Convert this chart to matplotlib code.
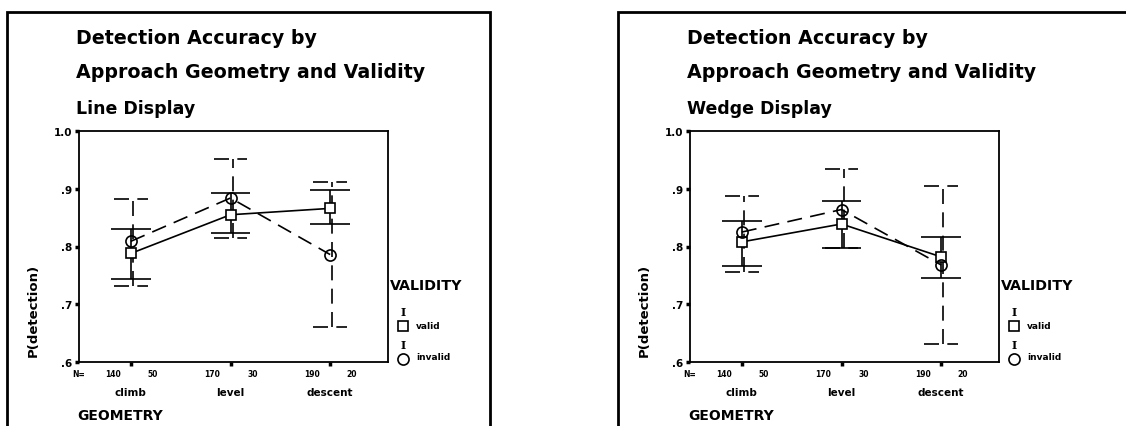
import matplotlib.pyplot as plt
import numpy as np
from matplotlib.lines import Line2D
from matplotlib.patches import Rectangle

W, H = 1126, 427

categories = ['climb', 'level', 'descent']
n_valid = [140, 170, 190]
n_invalid = [50, 30, 20]
yticks = [0.6, 0.7, 0.8, 0.9, 1.0]
ytick_labels = ['.6', '.7', '.8', '.9', '1.0']

# line display
line_valid = [0.788, 0.855, 0.866]
line_valid_lo = [0.744, 0.823, 0.839]
line_valid_hi = [0.831, 0.892, 0.898]
line_invalid = [0.809, 0.884, 0.786]
line_invalid_lo = [0.731, 0.814, 0.660]
line_invalid_hi = [0.882, 0.952, 0.911]

# wedge display
wedge_valid = [0.808, 0.839, 0.782]
wedge_valid_lo = [0.766, 0.798, 0.746]
wedge_valid_hi = [0.845, 0.878, 0.817]
wedge_invalid = [0.825, 0.864, 0.768]
wedge_invalid_lo = [0.756, 0.797, 0.632]
wedge_invalid_hi = [0.888, 0.934, 0.904]

panels = [
    ('Line Display', 0, line_valid, line_valid_lo, line_valid_hi,
     line_invalid, line_invalid_lo, line_invalid_hi),
    ('Wedge Display', 611, wedge_valid, wedge_valid_lo, wedge_valid_hi,
     wedge_invalid, wedge_invalid_lo, wedge_invalid_hi),
]

plt.rcParams['font.family'] = 'DejaVu Sans'
plt.rcParams['font.weight'] = 'bold'

fig = plt.figure(figsize=(W / 100, H / 100), dpi=100)
fig.patch.set_facecolor('white')


def fx(px):
    return px / W


def fy(py):
    return 1 - py / H


dash = (0, (9, 5))
x = np.arange(1, 4)

for subtitle, off, v, vlo, vhi, iv, ilo, ihi in panels:
    # panel frame
    fig.add_artist(Rectangle((fx(7 + off), -0.2), fx(483) if off == 0 else 0.6,
                             fy(13) + 0.2, fill=False, lw=2, color='black',
                             transform=fig.transFigure))

    fig.text(fx(76 + off), fy(38), 'Detection Accuracy by', fontsize=13.7,
             fontweight='heavy', va='center', ha='left')
    fig.text(fx(76 + off), fy(72), 'Approach Geometry and Validity', fontsize=13.7,
             fontweight='heavy', va='center', ha='left')
    fig.text(fx(76 + off), fy(109), subtitle, fontsize=12.5,
             fontweight='heavy', va='center', ha='left')

    ax = fig.add_axes([fx(79 + off), 1 - 363 / H, fx(309), 231 / H])
    ax.set_xlim(0.48, 3.58)
    ax.set_ylim(0.6, 1.0)
    for s in ax.spines.values():
        s.set_linewidth(1.3)

    # valid: solid bars and line
    ax.vlines(x, vlo, vhi, color='black', lw=1.2)
    ax.hlines(vlo, x - 0.2, x + 0.2, color='black', lw=1.2)
    ax.hlines(vhi, x - 0.2, x + 0.2, color='black', lw=1.2)
    ax.plot(x, v, color='black', lw=1.2, marker='s', markersize=7,
            markerfacecolor='white', markeredgewidth=1.2, zorder=3)

    # invalid: dashed bars and line
    ax.vlines(x + 0.02, ilo, ihi, color='black', lw=1.2, linestyle=dash)
    ax.hlines(ilo, x - 0.17, x + 0.17, color='black', lw=1.2, linestyle=dash)
    ax.hlines(ihi, x - 0.17, x + 0.17, color='black', lw=1.2, linestyle=dash)
    ax.plot(x, iv, color='black', lw=1.2, linestyle=dash, marker='o',
            markersize=8, markerfacecolor='none', markeredgewidth=1.2, zorder=3)

    ax.set_yticks(yticks, ytick_labels)
    ax.set_xticks(x, categories)
    ax.tick_params(axis='y', length=3, width=2.5, labelsize=7.5, pad=2)
    ax.tick_params(axis='x', length=3, width=2.5, labelsize=7.5, pad=15)
    for lab in ax.get_xticklabels() + ax.get_yticklabels():
        lab.set_fontweight('heavy')

    # N row
    tr = ax.get_xaxis_transform()
    ax.text(0.0, -0.05, 'N=', transform=ax.transAxes, fontsize=5.5,
            ha='center', va='center')
    for xi, nv, ni in zip(x, n_valid, n_invalid):
        ax.text(xi - 0.18, -0.05, str(nv), transform=tr, fontsize=5.5,
                ha='center', va='center')
        ax.text(xi + 0.22, -0.05, str(ni), transform=tr, fontsize=5.5,
                ha='center', va='center')

    fig.text(fx(33 + off), fy(310), 'P(detection)', rotation=90, fontsize=9.5,
             fontweight='heavy', ha='center', va='center')
    fig.text(fx(77 + off), fy(416), 'GEOMETRY', fontsize=10,
             fontweight='heavy', ha='left', va='center')

    # legend
    fig.text(fx(390 + off), fy(286), 'VALIDITY', fontsize=10.3,
             fontweight='heavy', ha='left', va='center')
    fig.text(fx(403 + off), fy(313), 'I', fontsize=8, family='DejaVu Serif',
             ha='center', va='center')
    fig.add_artist(Line2D([fx(403 + off)], [fy(327)], marker='s', markersize=7,
                          markerfacecolor='white', markeredgecolor='black',
                          markeredgewidth=1.2, transform=fig.transFigure))
    fig.text(fx(416 + off), fy(327), 'valid', fontsize=6.5,
             fontweight='heavy', ha='left', va='center')
    fig.text(fx(403 + off), fy(346), 'I', fontsize=8, family='DejaVu Serif',
             ha='center', va='center')
    fig.add_artist(Line2D([fx(403 + off)], [fy(360)], marker='o', markersize=8,
                          markerfacecolor='white', markeredgecolor='black',
                          markeredgewidth=1.2, transform=fig.transFigure))
    fig.text(fx(416 + off), fy(358), 'invalid', fontsize=6.5,
             fontweight='heavy', ha='left', va='center')

fig.savefig('out.png', dpi=100)
